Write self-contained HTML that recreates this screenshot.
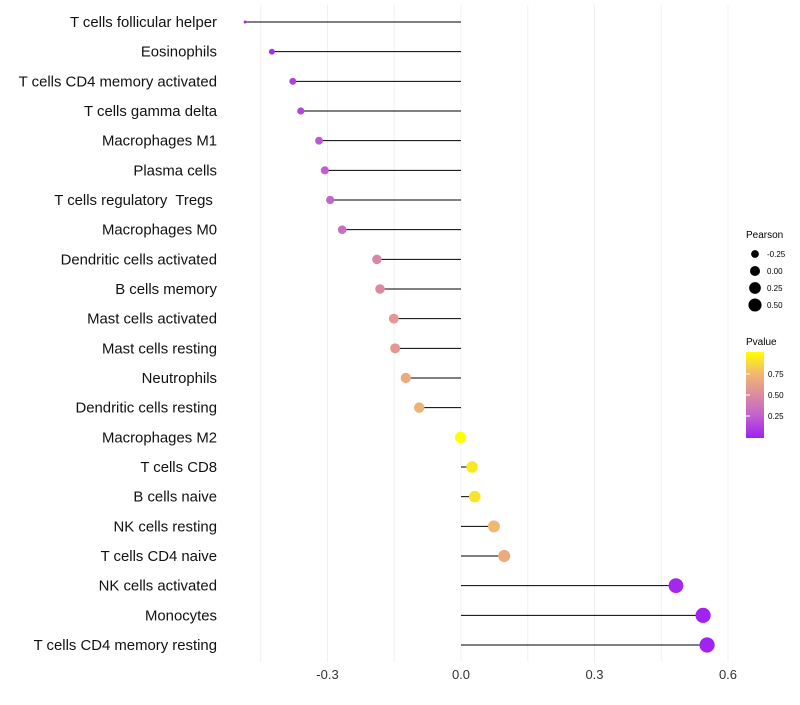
<!DOCTYPE html>
<html><head><meta charset="utf-8"><style>
body{margin:0;background:#fff;font-family:"Liberation Sans",sans-serif}
svg text{font-family:"Liberation Sans",sans-serif;white-space:pre}
</style></head><body>
<svg id="chart" width="800" height="700" xmlns="http://www.w3.org/2000/svg">
<defs><linearGradient id="pg" x1="0" y1="1" x2="0" y2="0">
<stop offset="0" stop-color="#a020f0"/><stop offset="0.25" stop-color="#c060d0"/>
<stop offset="0.5" stop-color="#dc8aa0"/><stop offset="0.75" stop-color="#f2b870"/><stop offset="1" stop-color="#ffff00"/></linearGradient></defs>
<g id="grid"></g><g id="marks"></g><g id="labels"></g>
<g>
<text x="746" y="238" font-size="10">Pearson</text>
<g id="sizeleg"></g>
<text x="746" y="345" font-size="10">Pvalue</text>
<rect x="746" y="352" width="18" height="86" fill="url(#pg)"/>
<g id="colleg"></g>
</g>
</svg>
<script>
const categories=["T cells follicular helper","Eosinophils","T cells CD4 memory activated","T cells gamma delta","Macrophages M1","Plasma cells","T cells regulatory  Tregs ","Macrophages M0","Dendritic cells activated","B cells memory","Mast cells activated","Mast cells resting","Neutrophils","Dendritic cells resting","Macrophages M2","T cells CD8","B cells naive","NK cells resting","T cells CD4 naive","NK cells activated","Monocytes","T cells CD4 memory resting"];
const pearson=[-0.485,-0.425,-0.378,-0.36,-0.319,-0.306,-0.294,-0.267,-0.189,-0.182,-0.151,-0.148,-0.124,-0.094,-0.001,0.025,0.031,0.074,0.097,0.483,0.544,0.553];
const pvalue=[0.03,0.06,0.12,0.15,0.22,0.25,0.28,0.33,0.48,0.5,0.58,0.58,0.68,0.72,1.0,0.92,0.9,0.75,0.68,0.03,0.01,0.01];
const xTicks=[-0.3,0.0,0.3,0.6];
const xTickLabels=["-0.3","0.0","0.3","0.6"];
const gridVals=[-0.45,-0.3,-0.15,0,0.15,0.3,0.45,0.6];
const sizeLegVals=[-0.25,0,0.25,0.5];
const sizeLegLabels=["-0.25","0.00","0.25","0.50"];
const colLegVals=[0.25,0.5,0.75];
const NS="http://www.w3.org/2000/svg";
const X=v=>461+v*445;
const Y=i=>22+i*(623/21);
const R=v=>1.5+6*Math.sqrt(Math.max(0,v+0.485));
const stops=[[0,[160,32,240]],[0.25,[192,96,208]],[0.5,[220,138,160]],[0.75,[242,184,112]],[1,[255,255,0]]];
function col(p){for(let k=1;k<stops.length;k++){if(p<=stops[k][0]){const a=stops[k-1],b=stops[k],t=(p-a[0])/(b[0]-a[0]);return "rgb("+a[1].map((c,j)=>Math.round(c+(b[1][j]-c)*t)).join(",")+")";}}return "rgb(255,255,0)";}
function mk(t,a,parent){const e=document.createElementNS(NS,t);for(const k in a)e.setAttribute(k,a[k]);parent.appendChild(e);return e;}
const grid=document.getElementById('grid'),marks=document.getElementById('marks'),labels=document.getElementById('labels');
gridVals.forEach(v=>{const l=mk('line',{x1:X(v),x2:X(v),y1:5,y2:662,stroke:'#f0f0f0','stroke-width':1},grid);

});
xTicks.forEach((v,i)=>{const t=mk('text',{x:X(v),y:679,'font-size':13,'text-anchor':'middle',fill:'#333'},labels);t.textContent=xTickLabels[i];

});
categories.forEach((c,i)=>{const y=Y(i);
const t=mk('text',{x:217,y:y+5,'font-size':14.9,'text-anchor':'end',fill:'#111'},labels);t.textContent=c;


const l=mk('line',{x1:X(0),x2:X(pearson[i]),y1:y,y2:y,stroke:'#000','stroke-width':1},marks);


const d=mk('circle',{cx:X(pearson[i]),cy:y,r:R(pearson[i]),fill:col(pvalue[i])},marks);

});
const sl=document.getElementById('sizeleg');
sizeLegVals.forEach((v,i)=>{const y=254+i*17;
const c=mk('circle',{cx:755,cy:y,r:R(v)*0.88,fill:'#000'},sl);


const t=mk('text',{x:767,y:y+3,'font-size':8},sl);t.textContent=sizeLegLabels[i];

});
const cl=document.getElementById('colleg');
colLegVals.forEach(v=>{const y=437-v*84;
const t=mk('text',{x:768,y:y+3,'font-size':8},cl);t.textContent=v.toFixed(2);


const l=mk('line',{x1:746,x2:750,y1:y,y2:y,stroke:'#fff'},cl);

});
</script>
</body></html>
